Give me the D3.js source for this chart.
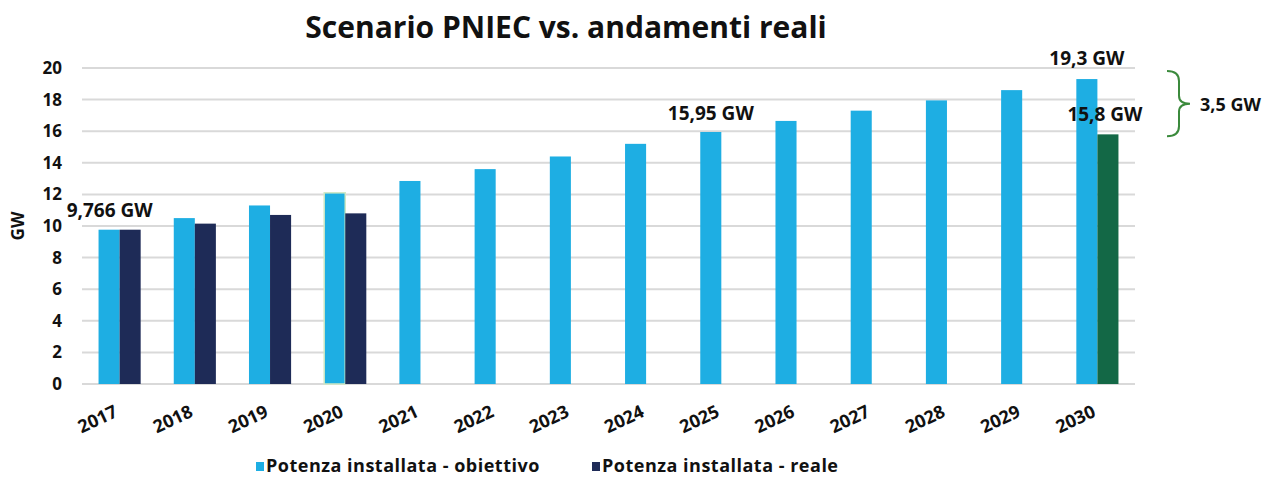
<!DOCTYPE html>
<html>
<head>
<meta charset="utf-8">
<style>
  body { margin: 0; background: #fff; }
  text { font-family: "Open Sans", "Noto Sans", sans-serif; font-weight: 700; fill: #111; }
</style>
</head>
<body>
<div id="chart"></div>
<script src="https://d3js.org/d3.v7.min.js"></script>
<script>
// Data
var years = ["2017", "2018", "2019", "2020", "2021", "2022", "2023", "2024", "2025", "2026", "2027", "2028", "2029", "2030"];
var obiettivo = [9.766, 10.5, 11.3, 12.1, 12.85, 13.6, 14.4, 15.2, 15.95, 16.65, 17.3, 17.95, 18.6, 19.3];
var reale = [9.766, 10.15, 10.7, 10.8, null, null, null, null, null, null, null, null, null, 15.8];
var seriesNames = ["Potenza installata - obiettivo", "Potenza installata - reale"];
var yTicks = [0, 2, 4, 6, 8, 10, 12, 14, 16, 18, 20];

var width = 1271, height = 477;
var margin = {left: 82, right: 136, top: 68, bottom: 93};

var svg = d3.select("#chart").append("svg")
    .attr("width", width)
    .attr("height", height);

var x = d3.scaleBand().domain(years).range([margin.left, width - margin.right]).paddingInner(0.44).paddingOuter(0.22);
var xs = d3.scaleBand().domain([0, 1]).range([0, x.bandwidth()]);
var y = d3.scaleLinear().domain([0, 20]).range([height - margin.bottom, margin.top]);

var lightBlue = "#1eaee3", navy = "#1e2b57", green = "#136846";

// title
svg.append("text")
    .attr("x", 566).attr("y", 38)
    .attr("text-anchor", "middle")
    .style("font-size", "30px")
    .text("Scenario PNIEC vs. andamenti reali");

// gridlines + y axis labels
svg.append("g").selectAll("line")
    .data(yTicks)
    .enter().append("line")
    .attr("x1", margin.left).attr("x2", width - margin.right)
    .attr("y1", function(d) { return y(d); })
    .attr("y2", function(d) { return y(d); })
    .attr("stroke", "#d9d9d9")
    .attr("stroke-width", 2);

svg.append("g").selectAll("text")
    .data(yTicks)
    .enter().append("text")
    .attr("x", 62)
    .attr("y", function(d) { return y(d) + 6; })
    .attr("text-anchor", "end")
    .style("font-size", "17px")
    .text(function(d) { return d; });

svg.append("text")
    .attr("transform", "translate(24," + y(10) + ") rotate(-90)")
    .attr("text-anchor", "middle")
    .style("font-size", "17px")
    .text("GW");

// bars
var gBars = svg.append("g");
gBars.selectAll("rect.obj")
    .data(obiettivo)
    .enter().append("rect")
    .attr("class", "obj")
    .attr("x", function(d, i) { return x(years[i]) + xs(0); })
    .attr("y", function(d) { return y(d); })
    .attr("width", xs.bandwidth())
    .attr("height", function(d) { return y(0) - y(d); })
    .attr("fill", lightBlue)
    .attr("stroke", function(d, i) { return years[i] === "2020" ? "#cfe8c4" : "none"; })
    .attr("stroke-width", 1.5);

gBars.selectAll("rect.real")
    .data(reale.map(function(v, i) { return {year: years[i], v: v}; }).filter(function(d) { return d.v != null; }))
    .enter().append("rect")
    .attr("class", "real")
    .attr("x", function(d) { return x(d.year) + xs(1); })
    .attr("y", function(d) { return y(d.v); })
    .attr("width", xs.bandwidth())
    .attr("height", function(d) { return y(0) - y(d.v); })
    .attr("fill", function(d) { return d.year === "2030" ? green : navy; });

// x labels
svg.append("g").selectAll("text")
    .data(years)
    .enter().append("text")
    .attr("transform", function(d) {
        return "translate(" + (x(d) + x.bandwidth() / 2 - 22) + "," + 419 + ") rotate(-25)";
    })
    .attr("dy", "0.35em")
    .attr("text-anchor", "middle")
    .style("font-size", "18px")
    .text(function(d) { return d; });

// value annotations
function label(txt, xpos, ypos) {
    svg.append("text")
        .attr("x", xpos).attr("y", ypos)
        .attr("text-anchor", "middle")
        .style("font-size", "19px")
        .text(txt);
}
label("9,766 GW", x("2017") + x.bandwidth() / 2 - 10, y(obiettivo[0]) - 13);
label("15,95 GW", x("2025") + xs(0) + xs.bandwidth() / 2, y(obiettivo[8]) - 12);
label("19,3 GW", x("2030") + xs(0) + xs.bandwidth() / 2, y(obiettivo[13]) - 14);
label("15,8 GW", x("2030") + xs(1) + xs.bandwidth() / 2 - 3, y(reale[13]) - 13);

// brace
var bTop = y(obiettivo[13]) - 8, bBot = y(reale[13]) + 2, bMid = (bTop + bBot) / 2;
var bx = 1167;
svg.append("path")
    .attr("d", "M" + bx + "," + bTop +
        " Q" + (bx + 12) + "," + bTop + " " + (bx + 12) + "," + (bTop + 10) +
        " L" + (bx + 12) + "," + (bMid - 8) +
        " Q" + (bx + 12) + "," + bMid + " " + (bx + 23) + "," + bMid +
        " Q" + (bx + 12) + "," + bMid + " " + (bx + 12) + "," + (bMid + 8) +
        " L" + (bx + 12) + "," + (bBot - 10) +
        " Q" + (bx + 12) + "," + bBot + " " + bx + "," + bBot)
    .attr("fill", "none")
    .attr("stroke", "#3b8a3c")
    .attr("stroke-width", 2);
svg.append("text")
    .attr("x", 1200).attr("y", bMid + 7)
    .style("font-size", "18px")
    .text("3,5 GW");

// legend
var legX = [256, 592];
var leg = svg.append("g").selectAll("g")
    .data(seriesNames)
    .enter().append("g")
    .attr("transform", function(d, i) { return "translate(" + legX[i] + ",461)"; });
leg.append("rect")
    .attr("width", 8).attr("height", 9)
    .attr("y", 1)
    .attr("fill", function(d, i) { return i === 0 ? lightBlue : navy; });
leg.append("text")
    .attr("x", 10).attr("y", 11)
    .style("font-size", "18px")
    .style("letter-spacing", "0.5px")
    .text(function(d) { return d; });
</script>
</body>
</html>
